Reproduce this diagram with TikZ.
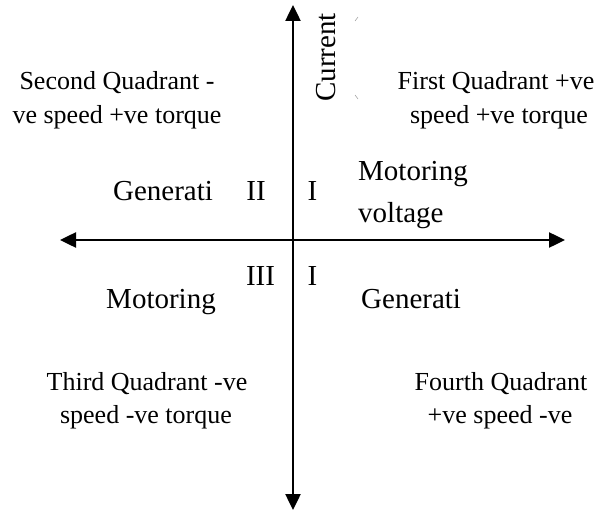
\documentclass[tikz,border=0pt]{standalone}
\usepackage{fontspec}
\setmainfont{Liberation Serif}
\usetikzlibrary{arrows.meta}
\begin{document}
\begin{tikzpicture}[x=1pt,y=-1pt,
  axis/.style={line width=2.5pt,{Triangle[length=16pt,width=15pt]}-{Triangle[length=16pt,width=15pt]}},
  quad/.style={font=\fontsize{26}{34}\selectfont,inner sep=0pt,anchor=base},
  lab/.style={font=\fontsize{29}{34}\selectfont,inner sep=0pt,anchor=base},
  labw/.style={lab,anchor=base west},
  tickmark/.style={draw=gray!70,line width=0.6pt}]
\useasboundingbox (0,0) rectangle (600,511);
\coordinate (L) at (60,240);
\coordinate (R) at (565,240);
\coordinate (T) at (293,5);
\coordinate (B) at (293,510);
\draw[axis] (L) -- (R);
\draw[axis] (B) -- (T);
% axis label
\node[lab,rotate=90] (cur) at (335,57.5) {Current};
\coordinate (m1a) at (355,21); \coordinate (m1b) at (358,17);
\coordinate (m2a) at (355,95); \coordinate (m2b) at (358,99);
\draw[tickmark] (m1a) -- (m1b);
\draw[tickmark] (m2a) -- (m2b);
% quadrant descriptions
\node[quad] (q2a) at (117,89) {Second Quadrant -};
\node[quad] (q2b) at (117,123) {ve speed +ve torque};
\node[quad] (q1a) at (496,89) {First Quadrant +ve};
\node[quad] (q1b) at (499,123) {speed +ve torque};
\node[quad] (q3a) at (147,390) {Third Quadrant -ve};
\node[quad] (q3b) at (146,423) {speed -ve torque};
\node[quad] (q4a) at (501,390) {Fourth Quadrant};
\node[quad] (q4b) at (500,423) {+ve speed -ve};
% labels near axes
\node[lab] (gen2) at (163,200) {Generati};
\node[lab] (r2) at (256,200) {II};
\node[lab] (r1) at (312.5,200) {I};
\node[labw] (mot1) at (358,180) {Motoring};
\node[labw] (volt) at (358,222) {voltage};
\node[lab] (r3) at (260.5,285) {III};
\node[lab] (r4) at (312.5,285) {I};
\node[lab] (mot3) at (161,308) {Motoring};
\node[labw] (gen4) at (361,308) {Generati};
\end{tikzpicture}
\end{document}
